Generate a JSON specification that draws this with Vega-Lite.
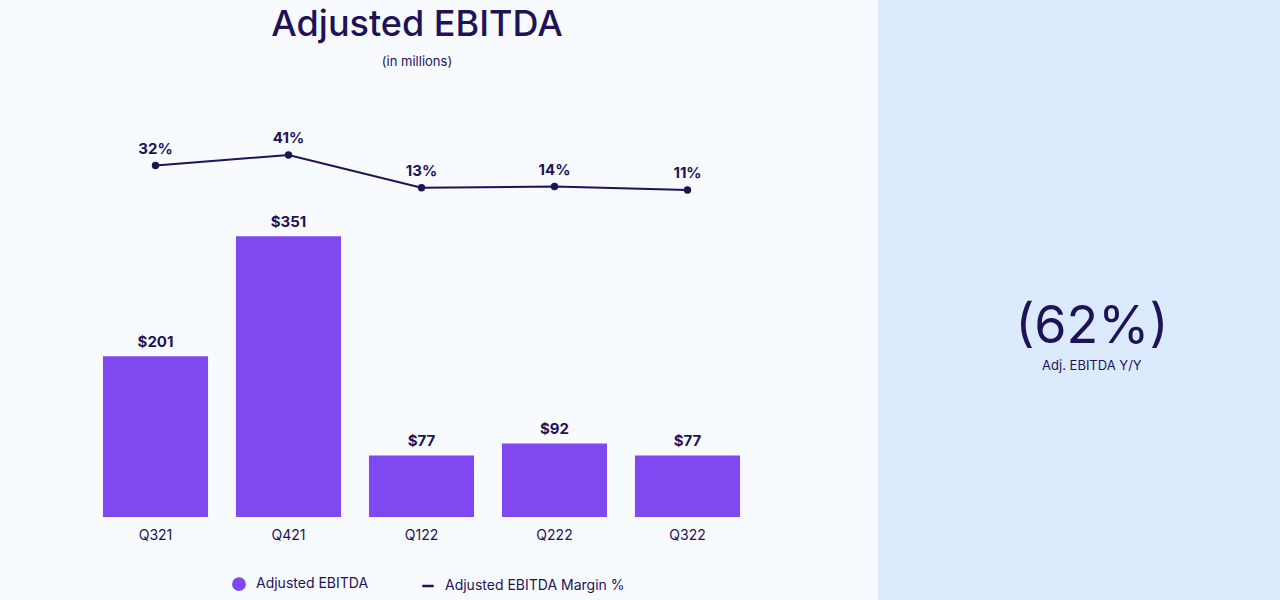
{
  "$schema": "https://vega.github.io/schema/vega-lite/v6.json",
  "width": 878,
  "height": 600,
  "autosize": {"type": "none"},
  "padding": {"left": 0, "right": 402, "top": 0, "bottom": 0},
  "background": "#dbeafd",
  "view": {"fill": "#f7faff", "stroke": null},
  "config": {
    "font": "Inter",
    "text": {"font": "Inter"}
  },
  "title": {
    "text": "Adjusted EBITDA",
    "subtitle": "(in millions)",
    "fontSize": 36,
    "fontWeight": 500,
    "color": "#1f1257",
    "subtitleFontSize": 13,
    "subtitleColor": "#1f1257",
    "subtitlePadding": 12,
    "offset": -70,
    "dx": -22,
    "anchor": "middle",
    "frame": "group"
  },
  "datasets": {
    "quarters": [
      {"quarter": "Q321", "ebitda": 201, "margin": 0.32},
      {"quarter": "Q421", "ebitda": 351, "margin": 0.41},
      {"quarter": "Q122", "ebitda": 77, "margin": 0.13},
      {"quarter": "Q222", "ebitda": 92, "margin": 0.14},
      {"quarter": "Q322", "ebitda": 77, "margin": 0.11}
    ],
    "yoy": [
      {"metric": "Adj. EBITDA Y/Y", "change": -0.62}
    ]
  },
  "layer": [
    {
      "data": {"name": "quarters"},
      "encoding": {
        "x": {
          "field": "quarter",
          "type": "nominal",
          "sort": null,
          "scale": {"range": [89, 754], "paddingInner": 0.21, "paddingOuter": 0.105},
          "axis": {
            "title": null,
            "domain": false,
            "ticks": false,
            "grid": false,
            "labelAngle": 0,
            "labelFontSize": 14,
            "labelColor": "#1f1257",
            "labelPadding": 11,
            "labelFont": "Inter",
            "offset": -83
          }
        },
        "y": {"field": "ebitda", "type": "quantitative", "scale": {"domain": [0, 521.25], "range": [517, 100], "nice": false}, "axis": null}
      },
      "layer": [
        {
          "mark": {"type": "bar"},
          "encoding": {
            "color": {
              "datum": "Adjusted EBITDA",
              "type": "nominal",
              "scale": {"domain": ["Adjusted EBITDA", "Adjusted EBITDA Margin %"], "range": ["#7f48f0", "#1f1257"]},
              "legend": {
                "title": null,
                "orient": "none",
                "legendX": 232,
                "legendY": 577,
                "direction": "horizontal",
                "labelFontSize": 14,
                "labelColor": "#1f1257",
                "labelFont": "Inter",
                "labelLimit": 400,
                "symbolSize": 130,
                "columnPadding": 48,
                "labelOffset": 10,
                "encode": {
                  "symbols": {
                    "update": {
                      "shape": {"signal": "datum.value === 'Adjusted EBITDA' ? 'circle' : 'stroke'"},
                      "stroke": {"scale": "color", "field": "value"},
                      "strokeWidth": {"value": 2.5},
                      "opacity": {"value": 1}
                    }
                  }
                }
              }
            }
          }
        },
        {
          "mark": {"type": "text", "baseline": "bottom", "dy": -6, "fontSize": 15, "fontWeight": "bold", "color": "#1f1257"},
          "encoding": {
            "text": {"field": "ebitda", "type": "quantitative", "format": "$.0f"}
          }
        }
      ]
    },
    {
      "data": {"name": "quarters"},
      "encoding": {
        "x": {
          "field": "quarter",
          "type": "nominal",
          "sort": null,
          "scale": {"range": [89, 754], "paddingInner": 0.21, "paddingOuter": 0.105},
          "axis": null
        },
        "y": {"field": "margin", "type": "quantitative", "scale": {"domain": [-2.692, 0.8813], "range": [517, 100], "nice": false, "zero": false}, "axis": null}
      },
      "layer": [
        {
          "mark": {"type": "line", "strokeWidth": 2},
          "encoding": {
            "color": {"datum": "Adjusted EBITDA Margin %", "type": "nominal"}
          }
        },
        {
          "mark": {"type": "circle", "size": 55, "opacity": 1, "color": "#1f1257"},
          "encoding": {}
        },
        {
          "mark": {"type": "text", "baseline": "bottom", "dy": -9, "fontSize": 15, "fontWeight": "bold", "color": "#1f1257"},
          "encoding": {
            "text": {"field": "margin", "type": "quantitative", "format": ".0%"}
          }
        }
      ]
    },
    {
      "data": {"name": "yoy"},
      "encoding": {
        "x": {"datum": 0.532, "type": "quantitative", "scale": {"domain": [0, 1], "range": [878, 1280]}, "axis": null},
        "y": {"datum": 0.5, "type": "quantitative", "scale": {"domain": [0, 1], "range": [0, 600]}, "axis": null}
      },
      "layer": [
        {
          "mark": {"type": "text", "fontSize": 52, "fontWeight": 400, "color": "#1f1257", "baseline": "alphabetic", "dy": 43},
          "encoding": {"text": {"field": "change", "type": "quantitative", "format": "(.0%"}}
        },
        {
          "mark": {"type": "text", "fontSize": 13, "color": "#1f1257", "baseline": "alphabetic", "dy": 70},
          "encoding": {"text": {"field": "metric", "type": "nominal"}}
        }
      ]
    }
  ],
  "resolve": {"scale": {"x": "independent", "y": "independent"}}
}
